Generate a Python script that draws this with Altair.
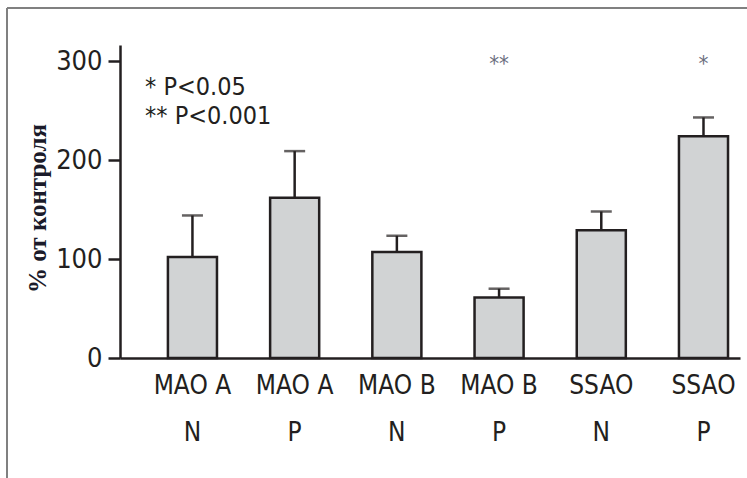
import altair as alt
import pandas as pd

enzymes = ["MAO A", "MAO A", "MAO B", "MAO B", "SSAO", "SSAO"]
groups = ["N", "P", "N", "P", "N", "P"]
means = [102, 162, 107, 61, 129, 224]
err_top = [144, 209, 123.5, 70, 148, 243]
signif = ["", "", "", "**", "", "*"]
legend_lines = ["* P<0.05", "** P<0.001"]
y_ticks = [0, 100, 200, 300]

keys = [f"{e}|{g}" for e, g in zip(enzymes, groups)]
df = pd.DataFrame({"key": keys, "mean": means, "err": err_top, "sig": signif})

NARROW = "Liberation Sans Narrow, DejaVu Sans Condensed, Roboto, sans-serif"
INK = "#231f20"

xscale = alt.Scale(domain=keys, paddingInner=0.52, paddingOuter=0.293, align=0.8)
yscale = alt.Scale(domain=[0, 316.2], nice=False, zero=True)

x_enc = alt.X("key:N", scale=xscale, sort=keys,
              axis=alt.Axis(title=None, labelExpr="split(datum.value, '|')",
                            labelAngle=0, labelFont=NARROW, labelFontSize=26,
                            labelColor=INK, labelLineHeight=47, labelPadding=14,
                            labelBaseline="top",
                            ticks=False, domainColor=INK, domainWidth=2.5))

base = alt.Chart(df)

bars = base.mark_bar(fill="#d1d3d4", stroke=INK, strokeWidth=2.5).encode(
    x=x_enc,
    y=alt.Y("mean:Q", scale=yscale,
            axis=alt.Axis(values=y_ticks, title="% от контроля",
                          titleFont="Liberation Serif", titleFontSize=25,
                          titleFontWeight="bold", titleColor="#1b1b2a",
                          titleX=-83, titleY=163, titleAngle=270,
                          titleAlign="center", titleBaseline="middle",
                          labelFont=NARROW, labelFontSize=27, labelColor=INK,
                          labelPadding=6, tickSize=12, tickWidth=2.5,
                          tickColor=INK, domainColor=INK, domainWidth=2.5,
                          grid=False)),
)

rules = base.mark_rule(color=INK, strokeWidth=2.5).encode(
    x="key:N", y="mean:Q", y2="err:Q"
)
caps = base.mark_tick(color=INK, thickness=2.5, size=21).encode(
    x="key:N", y="err:Q"
)
stars = base.mark_text(font=NARROW, fontSize=22, color="#6b6e7e",
                       baseline="alphabetic").encode(
    x="key:N", y=alt.value(26), text="sig:N"
)
legend = alt.Chart(pd.DataFrame({"t": [0]})).mark_text(
    text=legend_lines, font=NARROW, fontSize=25, color=INK, align="left",
    baseline="alphabetic", lineHeight=29
).encode(x=alt.value(25), y=alt.value(50))

frame_top = alt.Chart(pd.DataFrame({"t": [0]})).mark_rule(
    color="#808080", strokeWidth=2).encode(
    x=alt.value(-113), x2=alt.value(640), y=alt.value(-37))
frame_left = alt.Chart(pd.DataFrame({"t": [0]})).mark_rule(
    color="#808080", strokeWidth=2).encode(
    x=alt.value(-113), y=alt.value(-37), y2=alt.value(440))

chart = alt.layer(frame_top, frame_left, bars, rules, caps, stars, legend).properties(
    width=620, height=313,
    autosize=alt.AutoSizeParams(type="none"),
    padding={"left": 120, "top": 45, "right": 7, "bottom": 120},
    background="white",
).configure_view(stroke=None)

chart.save("out.html", embed_options={"renderer": "svg", "actions": False})
